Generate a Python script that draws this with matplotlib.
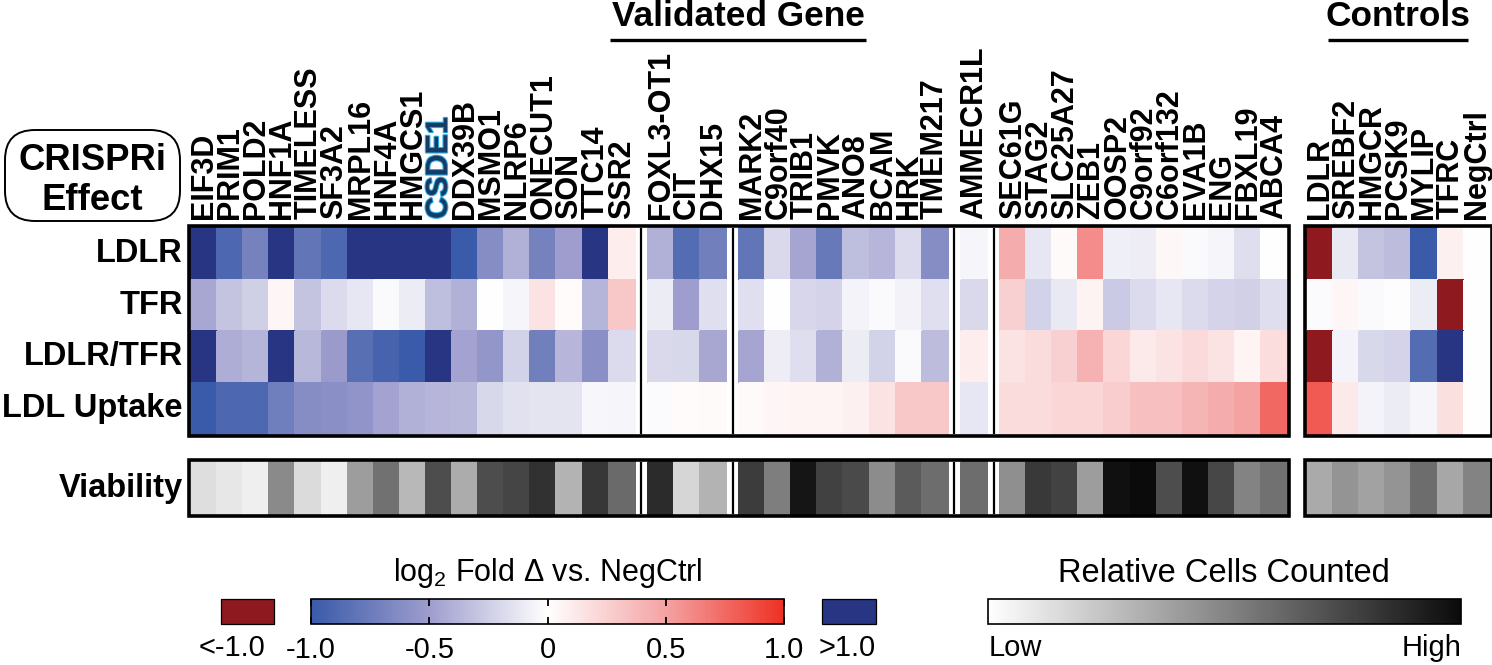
import numpy as np
import matplotlib
matplotlib.use('Agg')
from matplotlib import pyplot as plt
from matplotlib import font_manager
from matplotlib.colors import LinearSegmentedColormap, Normalize
from matplotlib.cm import ScalarMappable
from matplotlib.patches import Rectangle, FancyBboxPatch
import matplotlib.patheffects as pe

# ---- data (log2 fold change vs NegCtrl; 1.2 = ">1.0", -1.2 = "<-1.0") ----
genes = ['EIF3D', 'PRIM1', 'POLD2', 'HNF1A', 'TIMELESS', 'SF3A2', 'MRPL16', 'HNF4A',
         'HMGCS1', 'CSDE1', 'DDX39B', 'MSMO1', 'NLRP6', 'ONECUT1', 'SON', 'TTC14', 'SSR2',
         'FOXL3-OT1', 'CIT', 'DHX15',
         'MARK2', 'C9orf40', 'TRIB1', 'PMVK', 'ANO8', 'BCAM', 'HRK', 'TMEM217',
         'AMMECR1L',
         'SEC61G', 'STAG2', 'SLC25A27', 'ZEB1', 'OOSP2', 'C9orf92', 'C6orf132', 'EVA1B',
         'ENG', 'FBXL19', 'ABCA4']
group_sizes = [17, 3, 8, 1, 11]
controls = ['LDLR', 'SREBF2', 'HMGCR', 'PCSK9', 'MYLIP', 'TFRC', 'NegCtrl']
row_names = ['LDLR', 'TFR', 'LDLR/TFR', 'LDL Uptake']

ldlr = [1.2, -0.9, -0.7, 1.2, -0.8, -0.9, 1.2, 1.2, 1.2, 1.2, -1.0, -0.62, -0.4, -0.7, -0.5, 1.2, 0.1,
        -0.4, -0.87, -0.72,
        -0.8, -0.19, -0.46, -0.77, -0.33, -0.37, -0.18, -0.62,
        -0.05,
        0.45, -0.12, 0.03, 0.6, -0.08, -0.09, 0.04, -0.03, -0.05, -0.17, 0.0]
tfr = [-0.45, -0.3, -0.25, 0.05, -0.3, -0.18, -0.12, -0.03, -0.1, -0.33, -0.4, 0.0, -0.05, 0.15, 0.02, -0.38, 0.3,
       -0.1, -0.5, -0.16,
       -0.16, 0.0, -0.21, -0.22, -0.06, -0.03, -0.07, -0.16,
       -0.19,
       0.25, -0.23, -0.11, 0.07, -0.27, -0.18, -0.12, -0.18, -0.22, -0.24, -0.17]
ldlr_tfr = [1.2, -0.42, -0.38, 1.2, -0.36, -0.52, -0.85, -0.93, -1.0, 1.2, -0.47, -0.55, -0.23, -0.72, -0.37, -0.6, -0.18,
            -0.19, -0.2, -0.45,
            -0.46, -0.09, -0.17, -0.4, -0.1, -0.23, -0.03, -0.34,
            0.1,
            0.15, 0.19, 0.25, 0.42, 0.22, 0.12, 0.15, 0.2, 0.15, 0.06, 0.18]
ldl_uptake = [-1.0, -0.9, -0.9, -0.73, -0.62, -0.6, -0.57, -0.47, -0.4, -0.37, -0.36, -0.2, -0.15, -0.14, -0.14, -0.04, -0.05,
              -0.02, 0.02, 0.03,
              0.03, 0.05, 0.06, 0.06, 0.08, 0.15, 0.3, 0.3,
              -0.12,
              0.19, 0.19, 0.22, 0.22, 0.27, 0.35, 0.35, 0.4, 0.45, 0.5, 0.75]
viability = [0.14, 0.10, 0.07, 0.48, 0.15, 0.07, 0.40, 0.58, 0.29, 0.73, 0.34, 0.73, 0.76, 0.84, 0.31, 0.82, 0.61,
             0.87, 0.17, 0.31,
             0.80, 0.53, 0.96, 0.78, 0.74, 0.47, 0.67, 0.60,
             0.60,
             0.46, 0.81, 0.77, 0.40, 0.98, 1.0, 0.73, 0.98, 0.75, 0.51, 0.58]

ctrl_ldlr = [-1.2, -0.11, -0.3, -0.34, -1.0, 0.08, 0.0]
ctrl_tfr = [-0.02, 0.05, -0.03, -0.01, -0.1, -1.2, 0.0]
ctrl_ldlr_tfr = [-1.2, -0.06, -0.2, -0.22, -0.87, 1.2, 0.0]
ctrl_ldl_uptake = [0.82, 0.12, -0.06, -0.1, -0.05, 0.17, 0.0]
ctrl_viability = [0.35, 0.44, 0.38, 0.44, 0.60, 0.36, 0.51]

# ---- fonts ----
try:
    font_manager.findfont('Liberation Sans Narrow', fallback_to_default=False)
    NARROW = 'Liberation Sans Narrow'
    nscale = 1.0
except Exception:
    NARROW = 'Liberation Sans'
    nscale = 0.82
plt.rcParams['font.family'] = ['Liberation Sans', 'DejaVu Sans']
plt.rcParams['mathtext.fontset'] = 'custom'
plt.rcParams['mathtext.rm'] = 'Liberation Sans'
plt.rcParams['mathtext.default'] = 'regular'

# ---- colours ----
div_cmap = LinearSegmentedColormap.from_list(
    'bwr_fig', [(0, '#3A5BA9'), (0.25, '#9E9DCD'), (0.5, '#FFFFFF'), (0.75, '#F4A3A4'), (1, '#EE3124')])
div_cmap.set_under('#8E1A1F')
div_cmap.set_over('#283583')
div_norm = Normalize(-1, 1)
gray_cmap = LinearSegmentedColormap.from_list('cells', ['#FFFFFF', '#0B0B0B'])
gray_norm = Normalize(0, 1)

# ---- layout (pixels) ----
W, H = 1492, 665
CW = 26.1
GAP = CW / 2
X0 = 191
Y0, RH = 228, 51.5
VY0, VH = 462, 52
CX0 = 1307

fig = plt.figure(figsize=(W / 100, H / 100), dpi=100)
ax = fig.add_axes([0, 0, 1, 1])
ax.set_xlim(0, W)
ax.set_ylim(H, 0)
ax.axis('off')

main = np.array([ldlr, tfr, ldlr_tfr, ldl_uptake])
ctrl = np.array([ctrl_ldlr, ctrl_tfr, ctrl_ldlr_tfr, ctrl_ldl_uptake])
via = np.array(viability)
row_edges = Y0 + RH * np.arange(5)
via_edges = np.array([VY0, VY0 + VH])

# column edges per group
group_edges = []
x = X0
for n in group_sizes:
    e = x + CW * np.arange(n + 1)
    group_edges.append(e)
    x = e[-1] + GAP
main_right = group_edges[-1][-1]

start = 0
centers = []
for n, e in zip(group_sizes, group_edges):
    ax.pcolormesh(e, row_edges, main[:, start:start + n], cmap=div_cmap, norm=div_norm,
                  edgecolors='face', linewidth=0.3)
    ax.pcolormesh(e, via_edges, via[None, start:start + n], cmap=gray_cmap, norm=gray_norm,
                  edgecolors='face', linewidth=0.3)
    centers.extend((e[:-1] + e[1:]) / 2)
    start += n

# separators between groups
for e in group_edges[:-1]:
    xs = e[-1] + GAP / 2
    ax.vlines(xs, row_edges[0], row_edges[-1], color='black', lw=1.6)
    ax.vlines(xs, via_edges[0], via_edges[-1], color='black', lw=1.6)

# controls
ce = CX0 + CW * np.arange(len(controls) + 1)
ax.pcolormesh(ce, row_edges, ctrl, cmap=div_cmap, norm=div_norm, edgecolors='face', linewidth=0.3)
ax.pcolormesh(ce, via_edges, np.array(ctrl_viability)[None, :], cmap=gray_cmap, norm=gray_norm,
              edgecolors='face', linewidth=0.3)
ccenters = (ce[:-1] + ce[1:]) / 2

# outlines
def box(x1, x2, y1, y2):
    ax.add_patch(Rectangle((x1 - 1.8, y1 - 1.8), x2 - x1 + 3.6, y2 - y1 + 3.6,
                           fill=False, ec='black', lw=2.6))

box(X0, main_right, row_edges[0], row_edges[-1])
box(X0, main_right, via_edges[0], via_edges[-1])
box(ce[0], ce[-1], row_edges[0], row_edges[-1])
box(ce[0], ce[-1], via_edges[0], via_edges[-1])

# gene labels
for g, cx in zip(genes + controls, list(centers) + list(ccenters)):
    t = ax.text(cx, 219, g, rotation=90, ha='center', va='bottom', fontsize=22,
                fontweight='bold', color='black')
    if g == 'CSDE1':
        t.set_color('#163C66')
        t.set_path_effects([pe.withStroke(linewidth=1.6, foreground='#2AA9E0')])

# row labels
for i, r in enumerate(row_names):
    ax.text(183, (row_edges[i] + row_edges[i + 1]) / 2, r, ha='right', va='center',
            fontsize=23.5, fontweight='bold')
ax.text(183, VY0 + VH / 2, 'Viability', ha='right', va='center', fontsize=23.5, fontweight='bold')

# CRISPRi Effect box
ax.add_patch(FancyBboxPatch((5, 130), 175, 91, boxstyle='round,pad=0,rounding_size=30',
                            fill=False, ec='black', lw=1.4))
ax.text(92, 160, 'CRISPRi', ha='center', va='center', fontsize=32 * nscale,
        fontweight='bold', family=NARROW)
ax.text(92, 201, 'Effect', ha='center', va='center', fontsize=32 * nscale,
        fontweight='bold', family=NARROW)

# group headers
ax.text(738, 17, 'Validated Gene', ha='center', va='center', fontsize=31 * nscale,
        fontweight='bold', family=NARROW)
ax.plot([610, 866], [40, 40], color='black', lw=2.4, solid_capstyle='butt')
ax.text(1398, 17, 'Controls', ha='center', va='center', fontsize=31 * nscale,
        fontweight='bold', family=NARROW)
ax.plot([1328, 1468], [40, 40], color='black', lw=2.4, solid_capstyle='butt')

# ---- legends ----
def pix_axes(x1, y1, x2, y2):
    return fig.add_axes([x1 / W, 1 - y2 / H, (x2 - x1) / W, (y2 - y1) / H])

LY1, LY2 = 599, 624
cax = pix_axes(311, LY1, 784, LY2)
cb = fig.colorbar(ScalarMappable(norm=div_norm, cmap=div_cmap), cax=cax, orientation='horizontal')
cb.set_ticks([-1, -0.5, 0, 0.5, 1])
cb.set_ticklabels(['-1.0', '-0.5', '0', '0.5', '1.0'])
cax.tick_params(direction='in', length=5, width=1.3, top=True, bottom=True,
                labelsize=21, pad=9)
cb.outline.set_linewidth(1.2)
ax.text(548, 573, 'log$_2$ Fold Δ vs. NegCtrl', ha='center', va='center', fontsize=22)

ax.add_patch(Rectangle((221, LY1), 53, LY2 - LY1, fc=div_cmap.get_under(), ec='black', lw=0.9))
ax.text(232, 648, '<-1.0', ha='center', va='center', fontsize=21)
ax.add_patch(Rectangle((822, LY1), 54, LY2 - LY1, fc=div_cmap.get_over(), ec='black', lw=0.9))
ax.text(847, 648, '>1.0', ha='center', va='center', fontsize=21)

gax = pix_axes(988, LY1, 1461, LY2)
gb = fig.colorbar(ScalarMappable(norm=gray_norm, cmap=gray_cmap), cax=gax, orientation='horizontal')
gb.set_ticks([])
gb.outline.set_linewidth(1.2)
ax.text(1224, 573, 'Relative Cells Counted', ha='center', va='center', fontsize=23.5)
ax.text(989, 648, 'Low', ha='left', va='center', fontsize=21)
ax.text(1462, 648, 'High', ha='right', va='center', fontsize=21)

fig.savefig('out.png', dpi=100)
